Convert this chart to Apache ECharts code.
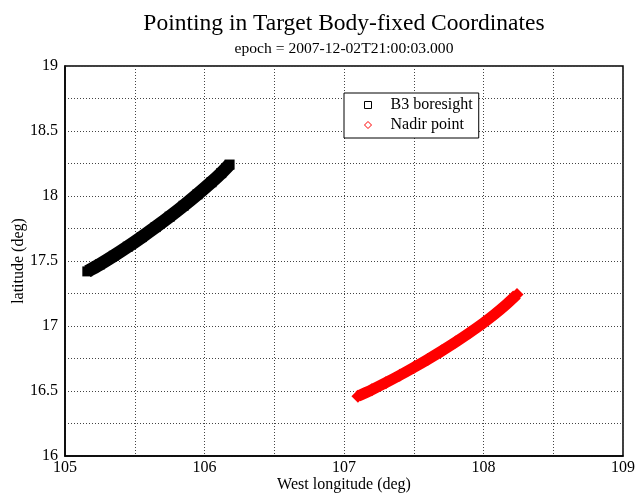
<!DOCTYPE html>
<html>
<head>
<meta charset="utf-8">
<script src="https://cdn.jsdelivr.net/npm/echarts@6/dist/echarts.min.js"></script>
<style>html,body{margin:0;padding:0;background:#fff}#c{width:635px;height:493px}</style>
</head>
<body>
<div id="c"></div>
<script>
var titleText = 'Pointing in Target Body-fixed Coordinates';
var subtitleText = 'epoch = 2007-12-02T21:00:03.000';
var xName = 'West longitude (deg)';
var yName = 'latitude (deg)';
var seriesNames = ['B3 boresight', 'Nadir point'];

var boresightLon = [105.16, 105.25, 105.35, 105.45, 105.55, 105.65, 105.75, 105.85, 105.95, 106.05, 106.12, 106.18];
var boresightLat = [17.42, 17.474, 17.54, 17.61, 17.684, 17.761, 17.841, 17.925, 18.013, 18.106, 18.176, 18.242];

var nadirLon = [107.10, 107.20, 107.30, 107.40, 107.50, 107.60, 107.70, 107.80, 107.90, 108.00, 108.08, 108.16, 108.24];
var nadirLat = [16.46, 16.51, 16.564, 16.621, 16.681, 16.743, 16.808, 16.876, 16.948, 17.024, 17.09, 17.162, 17.242];

var xMin = 105, xMax = 109, xStep = 1;
var yMin = 16, yMax = 19, yStep = 0.5;

function pairs(a, b) { return a.map(function (v, i) { return [v, b[i]]; }); }

var font = 'Liberation Serif';
var chart = echarts.init(document.getElementById('c'), null, {renderer: 'canvas'});
var gridLine = {show: true, lineStyle: {color: '#444', type: [1, 2], width: 1}};
chart.setOption({
  animation: false,
  backgroundColor: '#fff',
  textStyle: {fontFamily: font},
  title: [
    {text: titleText, left: 339, top: 7, textAlign: 'center',
     textStyle: {fontFamily: font, fontSize: 23.5, fontWeight: 'normal', color: '#000'}},
    {text: subtitleText, left: 339, top: 36, textAlign: 'center',
     textStyle: {fontFamily: font, fontSize: 15.6, fontWeight: 'normal', color: '#000'}}
  ],
  grid: {left: 65, right: 12, top: 66, bottom: 37, outerBoundsMode: 'none', containLabel: false,
         show: true, borderColor: '#000', borderWidth: 1.5, backgroundColor: 'transparent'},
  legend: {
    orient: 'vertical', left: 344, top: 93,
    padding: [4, 6, 5, 20],
    itemWidth: 7, itemHeight: 7, itemGap: 4,
    backgroundColor: '#fff', borderColor: '#000', borderWidth: 1,
    textStyle: {fontFamily: font, fontSize: 16, color: '#000', lineHeight: 16, padding: [0, 0, 0, 14]},
    data: [
      {name: seriesNames[0], icon: 'rect', itemStyle: {color: '#fff', borderColor: '#000', borderWidth: 1}},
      {name: seriesNames[1], icon: 'diamond', itemStyle: {color: '#fff', borderColor: '#f00', borderWidth: 1}}
    ]
  },
  xAxis: {
    type: 'value', min: xMin, max: xMax, interval: xStep,
    name: xName, nameLocation: 'middle', nameGap: 21, nameMoveOverlap: false,
    nameTextStyle: {fontFamily: font, fontSize: 16, color: '#000'},
    axisLine: {show: true, lineStyle: {color: '#000', width: 1.5}},
    axisTick: {show: false},
    axisLabel: {fontFamily: font, fontSize: 16, color: '#000', margin: 4},
    splitLine: gridLine,
    minorTick: {show: false, splitNumber: 2},
    minorSplitLine: gridLine
  },
  yAxis: {
    type: 'value', min: yMin, max: yMax, interval: yStep,
    name: yName, nameLocation: 'middle', nameGap: 38, nameMoveOverlap: false,
    nameTextStyle: {fontFamily: font, fontSize: 16, color: '#000'},
    axisLine: {show: true, lineStyle: {color: '#000', width: 1.5}},
    axisTick: {show: false},
    axisLabel: {fontFamily: font, fontSize: 16, color: '#000', margin: 7},
    splitLine: gridLine,
    minorTick: {show: false, splitNumber: 2},
    minorSplitLine: gridLine
  },
  series: [
    {
      name: seriesNames[0], type: 'line', smooth: 0.3,
      data: pairs(boresightLon, boresightLat),
      symbol: 'rect', symbolSize: 10, showSymbol: true,
      itemStyle: {color: '#000'},
      lineStyle: {color: '#000', width: 13, cap: 'butt'},
      emphasis: {disabled: true}, z: 3
    },
    {
      name: seriesNames[1], type: 'line', smooth: 0.3,
      data: pairs(nadirLon, nadirLat),
      symbol: 'diamond', symbolSize: 13, showSymbol: true,
      itemStyle: {color: '#f00'},
      lineStyle: {color: '#f00', width: 11, cap: 'butt'},
      emphasis: {disabled: true}, z: 3
    }
  ]
});
</script>
</body>
</html>
